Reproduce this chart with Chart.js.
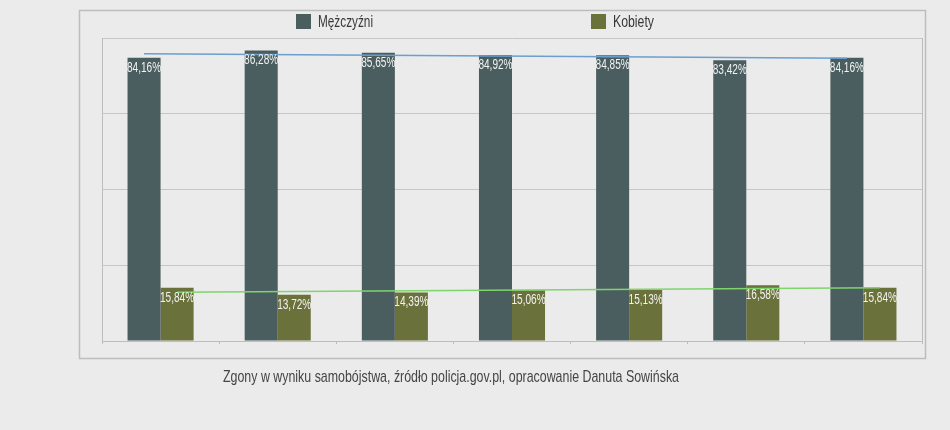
<!DOCTYPE html>
<html><head><meta charset="utf-8">
<script src="https://cdn.jsdelivr.net/npm/chart.js@4/dist/chart.umd.min.js"></script>
<style>
html,body{margin:0;padding:0;background:#ebebeb;}
#wrap{position:relative;width:950px;height:430px;}
canvas{position:absolute;left:0;top:0;}
.leg{position:absolute;top:14px;height:15px;display:flex;align-items:center;font-family:'Liberation Sans',Arial,sans-serif;font-size:16px;color:#383838;white-space:nowrap;}
.leg span.box{display:inline-block;width:15px;height:15px;margin-right:7px;}
.leg span.txt{display:inline-block;transform-origin:0 50%;}
#caption{position:absolute;left:223px;top:367px;font-family:'Liberation Sans',Arial,sans-serif;font-size:17px;color:#454545;white-space:nowrap;transform-origin:0 50%;}
</style></head>
<body>
<div id="wrap">
<canvas id="c" width="950" height="430"></canvas>
<div id="legM" class="leg" style="left:296px"></div>
<div id="legK" class="leg" style="left:591px"></div>
<div id="caption">Zgony w wyniku samobójstwa, źródło policja.gov.pl, opracowanie Danuta Sowińska</div>
</div>
<script>
const categories = ['1','2','3','4','5','6','7'];
const menLabel = 'Mężczyźni';
const womenLabel = 'Kobiety';
const menValues = [84.16, 86.28, 85.65, 84.92, 84.85, 83.42, 84.16];
const womenValues = [15.84, 13.72, 14.39, 15.06, 15.13, 16.58, 15.84];
// trend line end values (first and last category)
const menTrend = [85.3, 84.0];
const womenTrend = [14.5, 15.8];
const yTicks = [0, 22.5, 45, 67.5, 90];

const menColor = '#4b5e5f';
const womenColor = '#6b713b';
const menTrendColor = '#6a9fd0';
const womenTrendColor = '#7fd46c';
const catPct = 0.564;

function fmt(v){ return v.toFixed(2).replace('.', ',') + '%'; }

const trendPlugin = {
  id: 'trends',
  afterDatasetsDraw(chart){
    const ctx = chart.ctx, y = chart.scales.y;
    const sets = [[0, menTrend, menTrendColor], [1, womenTrend, womenTrendColor]];
    ctx.save();
    ctx.lineWidth = 1.6;
    sets.forEach(([di, tr, col]) => {
      const bars = chart.getDatasetMeta(di).data;
      ctx.strokeStyle = col;
      ctx.beginPath();
      ctx.moveTo(bars[0].x, y.getPixelForValue(tr[0]));
      ctx.lineTo(bars[bars.length-1].x, y.getPixelForValue(tr[1]));
      ctx.stroke();
    });
    ctx.restore();
  }
};

const labelPlugin = {
  id: 'barLabels',
  afterDatasetsDraw(chart){
    const ctx = chart.ctx;
    ctx.save();
    ctx.font = "14px 'Liberation Sans',Arial,sans-serif";
    ctx.fillStyle = '#f2f2f2';
    ctx.textAlign = 'center';
    ctx.textBaseline = 'top';
    const sx = 0.72;
    [0,1].forEach(di => {
      const meta = chart.getDatasetMeta(di);
      const vals = chart.data.datasets[di].data;
      meta.data.forEach((bar, i) => {
        ctx.save();
        ctx.translate(bar.x, bar.y + 3);
        ctx.scale(sx, 1);
        ctx.fillText(fmt(vals[i]), 0, 0);
        ctx.restore();
      });
    });
    ctx.restore();
  }
};
const framePlugin = {
  id: 'frames',
  beforeDraw(chart){
    const ctx = chart.ctx;
    ctx.save();
    ctx.strokeStyle = '#bdbdbd';
    ctx.lineWidth = 1.5;
    ctx.strokeRect(79.5, 10.5, 846, 348);
    ctx.restore();
  },
  afterDraw(chart){
    const a = chart.chartArea, ctx = chart.ctx;
    ctx.save();
    ctx.strokeStyle = '#bdbdbd';
    ctx.lineWidth = 1;
    ctx.beginPath();
    ctx.moveTo(Math.round(a.right)+0.5, a.top);
    ctx.lineTo(Math.round(a.right)+0.5, a.bottom);
    ctx.stroke();
    ctx.restore();
  }
};

new Chart(document.getElementById('c'), {
  type: 'bar',
  data: {
    labels: categories,
    datasets: [
      {label: menLabel, data: menValues, backgroundColor: menColor, categoryPercentage: catPct, barPercentage: 1.0},
      {label: womenLabel, data: womenValues, backgroundColor: womenColor, categoryPercentage: catPct, barPercentage: 1.0}
    ]
  },
  options: {
    responsive: false,
    animation: false,
    layout: {padding: {left: 102, right: 28, top: 38, bottom: 86}},
    plugins: {legend: {display: false}, tooltip: {enabled: false}},
    scales: {
      x: {
        type: 'category',
        offset: true,
        ticks: {display: false},
        grid: {offset: true, drawOnChartArea: false, drawTicks: true, tickLength: 3, color: '#bdbdbd'},
        border: {color: '#bdbdbd'}
      },
      y: {
        min: 0, max: 90,
        afterBuildTicks(axis){ axis.ticks = yTicks.map(v => ({value: v})); },
        ticks: {display: false},
        grid: {color: '#c6c6c6', drawTicks: false},
        border: {color: '#bdbdbd'}
      }
    }
  },
  plugins: [trendPlugin, labelPlugin, framePlugin]
});

function fitWidth(el, target){
  const w = el.getBoundingClientRect().width;
  if (w > 0) el.style.transform = 'scaleX(' + (target / w) + ')';
}
function legendItem(id, label, color, target){
  const el = document.getElementById(id);
  const b = document.createElement('span'); b.className = 'box'; b.style.background = color;
  const t = document.createElement('span'); t.className = 'txt'; t.textContent = label;
  el.appendChild(b); el.appendChild(t);
  fitWidth(t, target);
}
legendItem('legM', menLabel, menColor, 55);
legendItem('legK', womenLabel, womenColor, 41);
fitWidth(document.getElementById('caption'), 456);
</script>
</body></html>
